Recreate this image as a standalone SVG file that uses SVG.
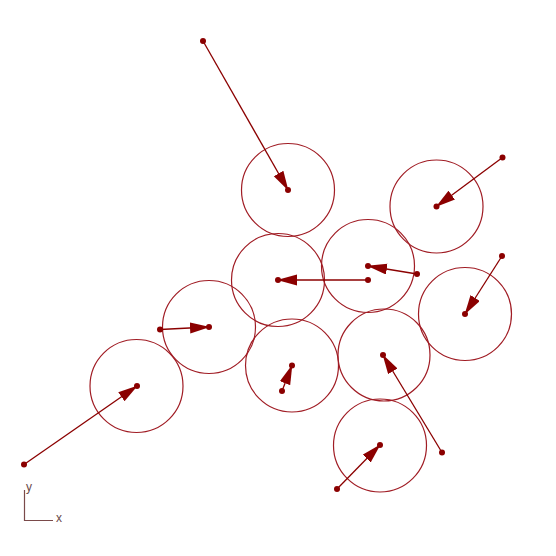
<svg xmlns="http://www.w3.org/2000/svg" width="556" height="556" viewBox="0 0 556 556">
<style>
.ring{fill:none;stroke:#a01c24;stroke-width:1.2}
.dot{fill:#8b0000}
.vec{stroke:#8b0000;stroke-width:1.3;fill:none;marker-end:url(#ah)}
.axis{stroke:#7a4a4a;stroke-width:1.2;fill:none}
.lab{font-family:"Liberation Sans",Arial,sans-serif;font-size:12px;fill:#6a4a4a}
</style>
<defs>
<marker id="ah" markerUnits="userSpaceOnUse" markerWidth="22" markerHeight="12" refX="19" refY="5.5" orient="auto">
<path d="M0,0 L20,5.5 L0,11 z" fill="#8b0000"/>
</marker>
</defs>
<rect width="556" height="556" fill="#fff"/>
<g id="n1"><circle class="ring" cx="288" cy="190" r="46.5"/><circle class="dot" cx="288" cy="190" r="3"/></g>
<g id="n2"><circle class="ring" cx="436.5" cy="206.5" r="46.5"/><circle class="dot" cx="436.5" cy="206.5" r="3"/></g>
<g id="n3"><circle class="ring" cx="278" cy="280" r="46.5"/><circle class="dot" cx="278" cy="280" r="3"/></g>
<g id="n4"><circle class="ring" cx="368" cy="266" r="46.5"/><circle class="dot" cx="368" cy="266" r="3"/></g>
<g id="n5"><circle class="ring" cx="465" cy="314" r="46.5"/><circle class="dot" cx="465" cy="314" r="3"/></g>
<g id="n6"><circle class="ring" cx="209" cy="327" r="46.5"/><circle class="dot" cx="209" cy="327" r="3"/></g>
<g id="n7"><circle class="ring" cx="136.5" cy="386" r="46.5"/><circle class="dot" cx="137" cy="386" r="3"/></g>
<g id="n8"><circle class="ring" cx="292" cy="365.5" r="46.5"/><circle class="dot" cx="292" cy="365.5" r="3"/></g>
<g id="n9"><circle class="ring" cx="384" cy="355" r="46"/><circle class="dot" cx="383" cy="355" r="3"/></g>
<g id="n10"><circle class="ring" cx="380" cy="445.5" r="46.5"/><circle class="dot" cx="380" cy="445" r="3"/></g>
<g id="connectors">
<line class="vec" x1="203" y1="41" x2="288" y2="190"/>
<line class="vec" x1="502.5" y1="157.5" x2="436.5" y2="206.5"/>
<line class="vec" x1="368" y1="280" x2="278" y2="280"/>
<line class="vec" x1="417" y1="274" x2="368" y2="266"/>
<line class="vec" x1="502" y1="256" x2="465" y2="314"/>
<line class="vec" x1="160" y1="329.5" x2="209" y2="327"/>
<line class="vec" x1="24" y1="464.5" x2="137" y2="386"/>
<line class="vec" x1="282" y1="391" x2="292" y2="365.5"/>
<line class="vec" x1="442" y1="452.5" x2="383" y2="355"/>
<line class="vec" x1="337" y1="489" x2="380" y2="445"/>
<circle class="dot" cx="203" cy="41" r="3"/>
<circle class="dot" cx="502.5" cy="157.5" r="3"/>
<circle class="dot" cx="368" cy="280" r="3"/>
<circle class="dot" cx="417" cy="274" r="3"/>
<circle class="dot" cx="502" cy="256" r="3"/>
<circle class="dot" cx="160" cy="329.5" r="3"/>
<circle class="dot" cx="24" cy="464.5" r="3"/>
<circle class="dot" cx="282" cy="391" r="3"/>
<circle class="dot" cx="442" cy="452.5" r="3"/>
<circle class="dot" cx="337" cy="489" r="3"/>
</g>
<g id="axes">
<path class="axis" d="M24.5,490 V520.5 H53"/>
<text class="lab" x="26" y="491">y</text>
<text class="lab" x="56" y="522">x</text>
</g>
</svg>
